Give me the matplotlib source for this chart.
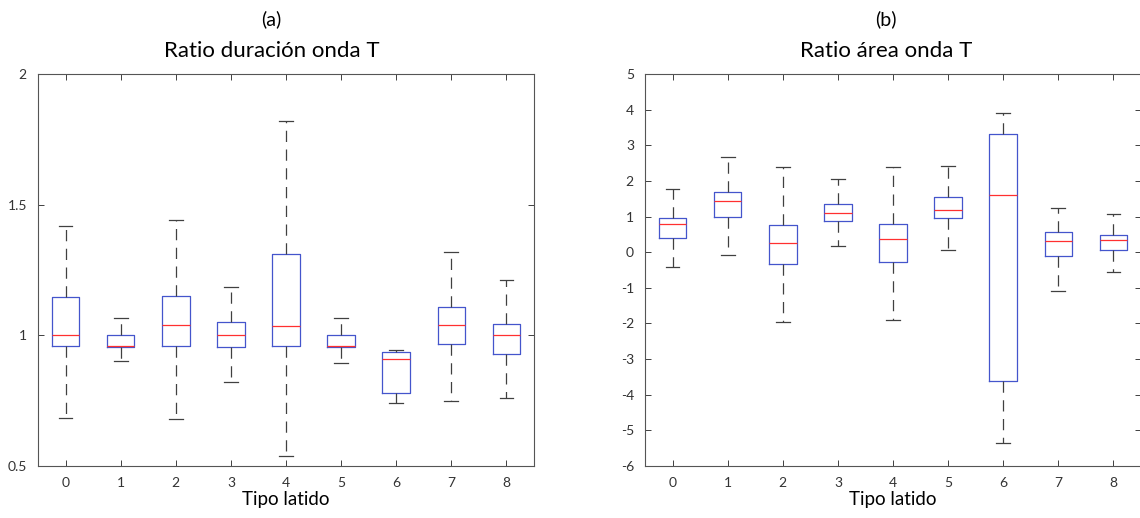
import matplotlib
matplotlib.use('Agg')
import matplotlib.pyplot as plt

# tipos de latido
tipos = [0, 1, 2, 3, 4, 5, 6, 7, 8]

# (a) ratio duracion onda T
dur_whislo = [0.685, 0.90, 0.68, 0.82, 0.54, 0.895, 0.74, 0.75, 0.76]
dur_q1     = [0.96, 0.955, 0.96, 0.955, 0.96, 0.955, 0.78, 0.965, 0.93]
dur_med    = [1.0, 0.96, 1.04, 1.0, 1.035, 0.96, 0.91, 1.04, 1.0]
dur_q3     = [1.145, 1.0, 1.15, 1.05, 1.31, 1.0, 0.935, 1.11, 1.045]
dur_whishi = [1.42, 1.065, 1.44, 1.185, 1.82, 1.065, 0.945, 1.32, 1.21]

# (b) ratio area onda T
area_whislo = [-0.42, -0.07, -1.97, 0.16, -1.9, 0.06, -5.35, -1.08, -0.55]
area_q1     = [0.4, 0.98, -0.33, 0.88, -0.28, 0.95, -3.62, -0.1, 0.07]
area_med    = [0.78, 1.43, 0.27, 1.1, 0.38, 1.17, 1.6, 0.3, 0.33]
area_q3     = [0.95, 1.7, 0.77, 1.35, 0.8, 1.55, 3.32, 0.57, 0.48]
area_whishi = [1.78, 2.67, 2.4, 2.05, 2.4, 2.43, 3.9, 1.25, 1.08]

font_tit = ['Lato', 'DejaVu Sans']
font_tick = ['Lato', 'DejaVu Sans']
gris = '#404040'


def stats(lo, q1, med, q3, hi):
    return [dict(whislo=lo[i], q1=q1[i], med=med[i], q3=q3[i], whishi=hi[i], fliers=[])
            for i in range(len(lo))]


def dibujar(ax, st, ylim, yticks, yticklabels, letra, titulo, xtit):
    ax.bxp(st, positions=tipos, widths=0.5, capwidths=0.25, showfliers=False,
           boxprops=dict(color='#4455cc', linewidth=0.9),
           medianprops=dict(color='#ff3030', linewidth=0.9),
           whiskerprops=dict(color=gris, linewidth=0.9, linestyle=(0, (9, 6))),
           capprops=dict(color=gris, linewidth=0.9))
    ax.set_xlim(-0.5, 8.5)
    ax.set_ylim(*ylim)
    ax.set_xticks(tipos)
    ax.set_xticklabels([str(t) for t in tipos], family=font_tick, fontsize=10, color='#333333')
    ax.set_yticks(yticks)
    ax.set_yticklabels(yticklabels, family=font_tick, fontsize=10, color='#333333')
    ax.tick_params(direction='in', top=True, right=True, length=4, width=0.7,
                   color=gris, pad=8)
    for s in ax.spines.values():
        s.set_color('#555555')
        s.set_linewidth(0.8)
    ax.set_xlabel('Tipo latido', family=font_tit, fontsize=13.5, labelpad=1)
    tr = ax.get_xaxis_transform()
    ax.text(xtit, 1.125, letra, transform=tr, ha='center', va='baseline',
            family=font_tit, fontsize=14)
    ax.text(xtit, 1.043, titulo, transform=tr, ha='center', va='baseline',
            family=font_tit, fontsize=16)


fig = plt.figure(figsize=(11.4, 5.18), dpi=100)
ax1 = fig.add_axes([38 / 1140, 1 - 466 / 518, 496 / 1140, 392 / 518])
ax2 = fig.add_axes([645 / 1140, 1 - 466 / 518, 496 / 1140, 392 / 518])

dibujar(ax1, stats(dur_whislo, dur_q1, dur_med, dur_q3, dur_whishi),
        (0.5, 2), [0.5, 1, 1.5, 2], ['0.5', '1', '1.5', '2'],
        '(a)', 'Ratio duración onda T', 3.74)
dibujar(ax2, stats(area_whislo, area_q1, area_med, area_q3, area_whishi),
        (-6, 5), list(range(-6, 6)), [str(v) for v in range(-6, 6)],
        '(b)', 'Ratio área onda T', 3.87)

fig.savefig('out.png', dpi=100)
